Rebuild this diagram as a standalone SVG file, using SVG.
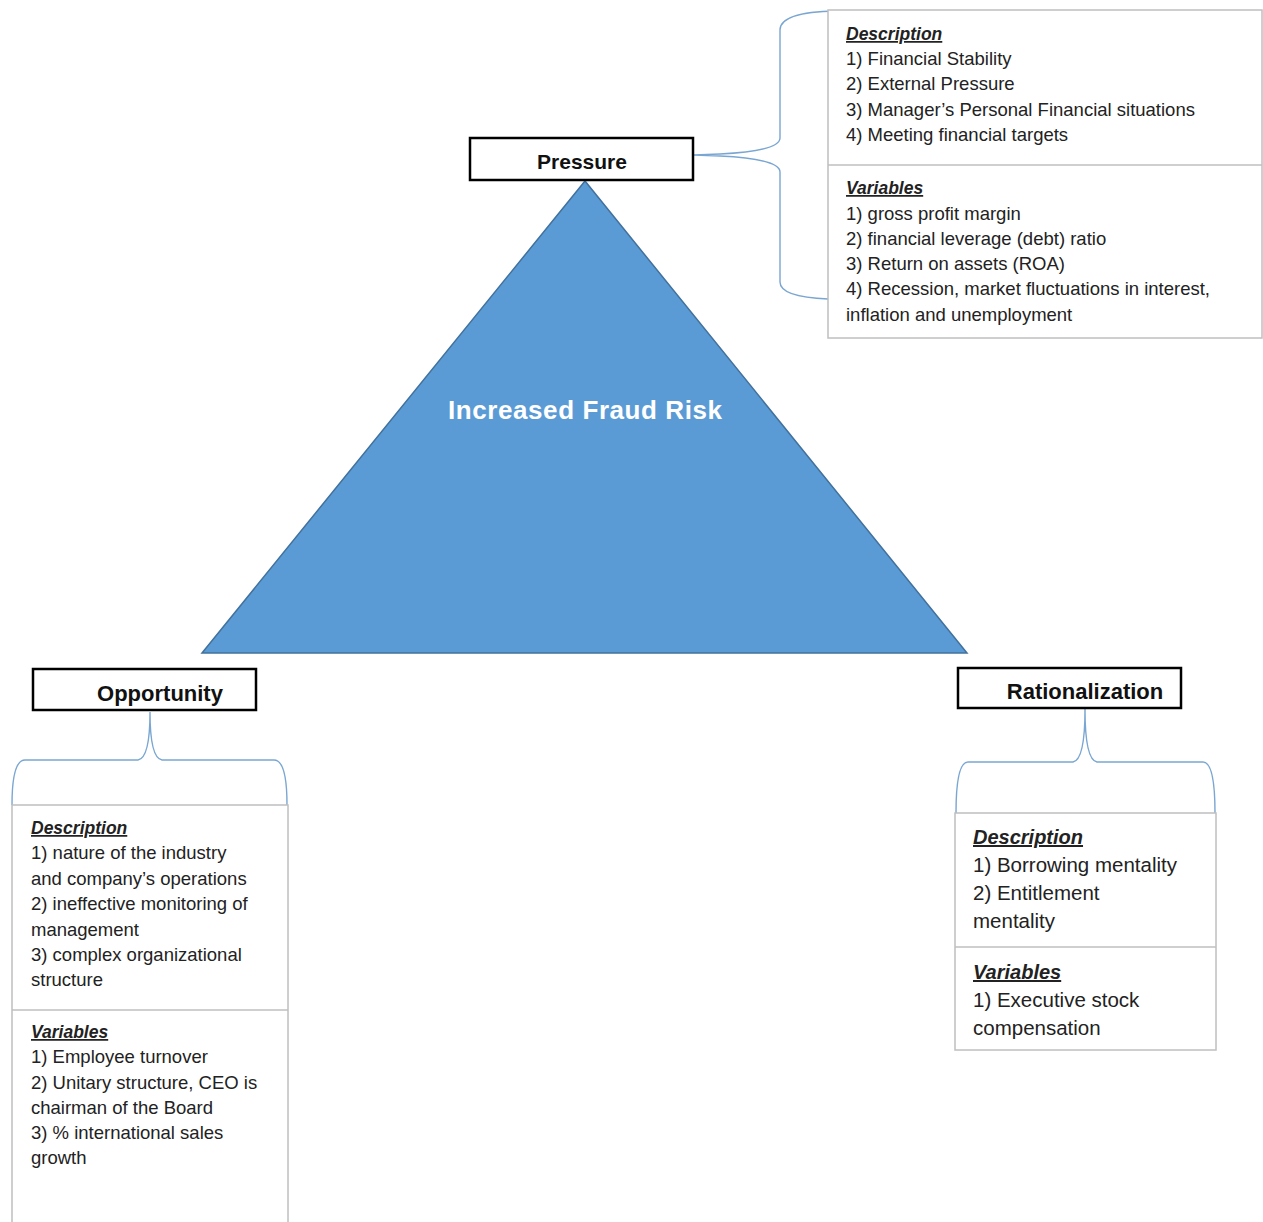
<svg xmlns="http://www.w3.org/2000/svg" width="1263" height="1222" viewBox="0 0 1263 1222">
<style>
.lbl{fill:#fff;stroke:#000;stroke-width:2.5}
.lt{font-family:"Liberation Sans",Arial,sans-serif;font-weight:bold;fill:#111;text-anchor:middle}
.card{fill:#fff;stroke:#bfbfbf;stroke-width:1.5}
.div{stroke:#bfbfbf;stroke-width:1.5}
.br{fill:none;stroke:#7aa6d2;stroke-width:1.4}
.tx{font-family:"Liberation Sans",Arial,sans-serif;fill:#222}
.hd{font-weight:bold;font-style:italic;text-decoration:underline}
</style>
<rect width="1263" height="1222" fill="#fff"/>
<g id="triangle">
<polygon points="585,181 202,653 967,653" fill="#5b9bd5" stroke="#41719c" stroke-width="1.5"/>
<text x="585" y="419" font-family="Liberation Sans,Arial,sans-serif" font-weight="bold" font-size="26" fill="#fff" text-anchor="middle" textLength="274">Increased Fraud Risk</text>
</g>
<g id="connectors">
<path class="br" d="M 836 11 Q 780 12 780 30 L 780 138 Q 780 151 720 154 L 694 155 L 720 156 Q 780 159 780 172 L 780 282 Q 780 297 828 299"/>
<path class="br" d="M 12 805 Q 12 760 25 760 L 138 760 Q 150 758 150 712 Q 150 758 162 760 L 274 760 Q 287 760 287 805"/>
<path class="br" d="M 956 813 Q 956 762 968 762 L 1073 762 Q 1085 760 1085 709 Q 1085 760 1097 762 L 1203 762 Q 1215 762 1215 813"/>
</g>
<g id="pressure">
<rect class="lbl" x="470" y="138" width="223" height="42"/>
<text class="lt" x="582" y="169" font-size="21">Pressure</text>
</g>
<g id="pressure-details">
<rect class="card" x="828" y="10" width="434" height="328"/>
<line class="div" x1="828" y1="165" x2="1262" y2="165"/>
<g class="tx" font-size="18.5">
<text class="hd" x="846" y="40" font-size="17.5">Description</text>
<text x="846" y="65">1) Financial Stability</text>
<text x="846" y="90">2) External Pressure</text>
<text x="846" y="116">3) Manager’s Personal Financial situations</text>
<text x="846" y="141">4) Meeting financial targets</text>
<text class="hd" x="846" y="194" font-size="17.5">Variables</text>
<text x="846" y="220">1) gross profit margin</text>
<text x="846" y="245">2) financial leverage (debt) ratio</text>
<text x="846" y="270">3) Return on assets (ROA)</text>
<text x="846" y="295">4) Recession, market fluctuations in interest,</text>
<text x="846" y="321">inflation and unemployment</text>
</g>
</g>
<g id="opportunity">
<rect class="lbl" x="33" y="669" width="223" height="41"/>
<text class="lt" x="160" y="701" font-size="22">Opportunity</text>
</g>
<g id="opportunity-details">
<rect class="card" x="12" y="805" width="276" height="430"/>
<line class="div" x1="12" y1="1010" x2="288" y2="1010"/>
<g class="tx" font-size="18.5">
<text class="hd" x="31" y="834" font-size="17.5">Description</text>
<text x="31" y="859">1) nature of the industry</text>
<text x="31" y="885">and company’s operations</text>
<text x="31" y="910">2) ineffective monitoring of</text>
<text x="31" y="936">management</text>
<text x="31" y="961">3) complex organizational</text>
<text x="31" y="986">structure</text>
<text class="hd" x="31" y="1038" font-size="17.5">Variables</text>
<text x="31" y="1063">1) Employee turnover</text>
<text x="31" y="1089">2) Unitary structure, CEO is</text>
<text x="31" y="1114">chairman of the Board</text>
<text x="31" y="1139">3) % international sales</text>
<text x="31" y="1164">growth</text>
</g>
</g>
<g id="rationalization">
<rect class="lbl" x="958" y="668" width="223" height="40"/>
<text class="lt" x="1085" y="699" font-size="22">Rationalization</text>
</g>
<g id="rationalization-details">
<rect class="card" x="955" y="813" width="261" height="237"/>
<line class="div" x1="955" y1="947" x2="1216" y2="947"/>
<g class="tx" font-size="20.5">
<text class="hd" x="973" y="844" font-size="20">Description</text>
<text x="973" y="872">1) Borrowing mentality</text>
<text x="973" y="900">2) Entitlement</text>
<text x="973" y="928">mentality</text>
<text class="hd" x="973" y="979" font-size="20">Variables</text>
<text x="973" y="1007">1) Executive stock</text>
<text x="973" y="1035">compensation</text>
</g>
</g>
</svg>
